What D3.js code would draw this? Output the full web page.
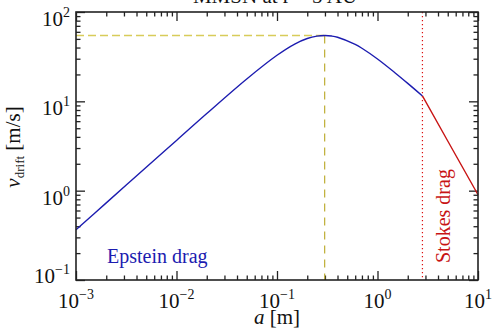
<!DOCTYPE html>
<html>
<head>
<meta charset="utf-8">
<script src="https://cdn.jsdelivr.net/npm/d3@7"></script>
<style>
  html, body { margin: 0; padding: 0; background: #fff; }
  svg { display: block; }
  text { font-family: "Liberation Serif", "Times New Roman", Times, serif; }
</style>
</head>
<body>
<svg id="chart" width="492" height="331" font-family="Liberation Serif, Times New Roman, serif"></svg>
<script>
// ---- data ----
const titleText = "MMSN at r = 5 AU";
const epsteinSize = [0.001, 0.002, 0.005, 0.01, 0.02, 0.05, 0.1, 0.15, 0.2, 0.25, 0.3, 0.35, 0.4, 0.6, 0.7, 1, 1.5, 2, 2.8];
const epsteinVel  = [0.366, 0.73, 1.83, 3.65, 7.3, 17.8, 32.8, 43.8, 50.5, 53.7, 54.5, 53.8, 52.2, 43.4, 39.3, 29.8, 20.8, 15.9, 11.5];
const stokesSize = [2.8, 5, 10];
const stokesVel  = [11.5, 3.6, 0.9];
const peakSize = 0.298;
const peakVel = 54.5;
const transitionSize = 2.8;
const xTickExps = [-3, -2, -1, 0, 1];
const yTickExps = [-1, 0, 1, 2];
const xAxisLabel = "a";
const xAxisUnit = " [m]";
const yAxisLabel = "v";
const yAxisSub = "drift";
const yAxisUnit = " [m/s]";
const epsteinLabel = "Epstein drag";
const stokesLabel = "Stokes drag";

// ---- drawing ----
const FONT = "'Liberation Serif', 'Times New Roman', Times, serif";
const svg = d3.select("#chart");
const L = 76, R = 478, T = 12, B = 280;
const x = d3.scaleLog().domain([1e-3, 10]).range([L, R]);
const y = d3.scaleLog().domain([0.1, 100]).range([B, T]);

const fmt = (e) => (e < 0 ? "\u2212" + Math.abs(e) : String(e));
const majorX = xTickExps.map(e => Math.pow(10, e));
const majorY = yTickExps.map(e => Math.pow(10, e));
const minors = (exps) => {
  const out = [];
  for (let i = 0; i < exps.length - 1; i++)
    for (let k = 2; k <= 9; k++) out.push(k * Math.pow(10, exps[i]));
  return out;
};
const minorX = minors(xTickExps), minorY = minors(yTickExps);

const tickColor = "#222";
function drawAxis(gen, transform) {
  const g = svg.append("g").attr("transform", transform).call(gen);
  g.select(".domain").remove();
  g.selectAll("line").attr("stroke", tickColor).attr("stroke-width", 1.3);
  g.selectAll("text").remove();
}
drawAxis(d3.axisBottom(x).tickValues(majorX).tickSize(-9).tickFormat(""), `translate(0,${B})`);
drawAxis(d3.axisBottom(x).tickValues(minorX).tickSize(-4.5).tickFormat(""), `translate(0,${B})`);
drawAxis(d3.axisTop(x).tickValues(majorX).tickSize(-9).tickFormat(""), `translate(0,${T})`);
drawAxis(d3.axisTop(x).tickValues(minorX).tickSize(-4.5).tickFormat(""), `translate(0,${T})`);
drawAxis(d3.axisLeft(y).tickValues(majorY).tickSize(-9).tickFormat(""), `translate(${L},0)`);
drawAxis(d3.axisLeft(y).tickValues(minorY).tickSize(-4.5).tickFormat(""), `translate(${L},0)`);
drawAxis(d3.axisRight(y).tickValues(majorY).tickSize(-9).tickFormat(""), `translate(${R},0)`);
drawAxis(d3.axisRight(y).tickValues(minorY).tickSize(-4.5).tickFormat(""), `translate(${R},0)`);

// reference lines
svg.append("line")
  .attr("x1", x(1e-3)).attr("x2", x(peakSize))
  .attr("y1", y(peakVel)).attr("y2", y(peakVel))
  .attr("stroke", "#d8cc5a").attr("stroke-width", 1.6).attr("stroke-dasharray", "8,4");
svg.append("line")
  .attr("x1", x(peakSize)).attr("x2", x(peakSize))
  .attr("y1", y(peakVel)).attr("y2", y(0.1))
  .attr("stroke", "#bfae35").attr("stroke-width", 1.2).attr("stroke-dasharray", "8,6");
svg.append("line")
  .attr("x1", x(transitionSize)).attr("x2", x(transitionSize))
  .attr("y1", y(100)).attr("y2", y(0.1))
  .attr("stroke", "#dd1111").attr("stroke-width", 1.2).attr("stroke-dasharray", "1.3,2.7");

// curves
const line = d3.line().x(d => x(d[0])).y(d => y(d[1])).curve(d3.curveCatmullRom.alpha(0.5));
svg.append("path")
  .datum(epsteinSize.map((a, i) => [a, epsteinVel[i]]))
  .attr("d", line).attr("fill", "none").attr("stroke", "#1c1cb0").attr("stroke-width", 1.4);
svg.append("path")
  .datum(stokesSize.map((a, i) => [a, stokesVel[i]]))
  .attr("d", d3.line().x(d => x(d[0])).y(d => y(d[1]))).attr("fill", "none")
  .attr("stroke", "#c81414").attr("stroke-width", 1.4);

// frame
svg.append("rect").attr("x", L).attr("y", T).attr("width", R - L).attr("height", B - T)
  .attr("fill", "none").attr("stroke", "#222").attr("stroke-width", 1.6);

// tick labels
const fs = 21;
majorX.forEach((v, i) => {
  const t = svg.append("text").attr("x", x(v)).attr("y", 308).attr("font-family", FONT)
    .attr("text-anchor", "middle").attr("font-size", fs).attr("fill", "#111");
  t.append("tspan").text("10");
  t.append("tspan").attr("dy", -9).attr("font-size", 14).text(fmt(xTickExps[i]));
});
majorY.forEach((v, i) => {
  const t = svg.append("text").attr("x", 70).attr("y", Math.min(y(v) + 14, 283)).attr("font-family", FONT)
    .attr("text-anchor", "end").attr("font-size", fs).attr("fill", "#111");
  t.append("tspan").text("10");
  t.append("tspan").attr("dy", -9).attr("font-size", 14).text(fmt(yTickExps[i]));
});

// axis titles
const xt = svg.append("text").attr("x", 277).attr("y", 324).attr("font-family", FONT)
  .attr("text-anchor", "middle").attr("font-size", fs).attr("fill", "#111");
xt.append("tspan").attr("font-style", "italic").text(xAxisLabel);
xt.append("tspan").text(xAxisUnit);

const yt = svg.append("text").attr("transform", "translate(20,147) rotate(-90)").attr("font-family", FONT)
  .attr("text-anchor", "middle").attr("font-size", fs).attr("fill", "#111");
yt.append("tspan").attr("font-style", "italic").text(yAxisLabel);
yt.append("tspan").attr("dy", 4).attr("font-size", 13).text(yAxisSub);
yt.append("tspan").attr("dy", -4).text(yAxisUnit);

// title (clipped at top as in reference)
svg.append("text").attr("x", 275).attr("y", 3).attr("text-anchor", "middle").attr("font-family", FONT)
  .attr("font-size", fs).attr("fill", "#111").text(titleText);

// regime labels
svg.append("text").attr("x", 107).attr("y", 263).attr("font-size", 20).attr("font-family", FONT)
  .attr("fill", "#1c1cb0").text(epsteinLabel);
svg.append("text").attr("transform", "translate(450,263) rotate(-90)").attr("font-family", FONT)
  .attr("font-size", 20).attr("fill", "#c81414").text(stokesLabel);
</script>
</body>
</html>
